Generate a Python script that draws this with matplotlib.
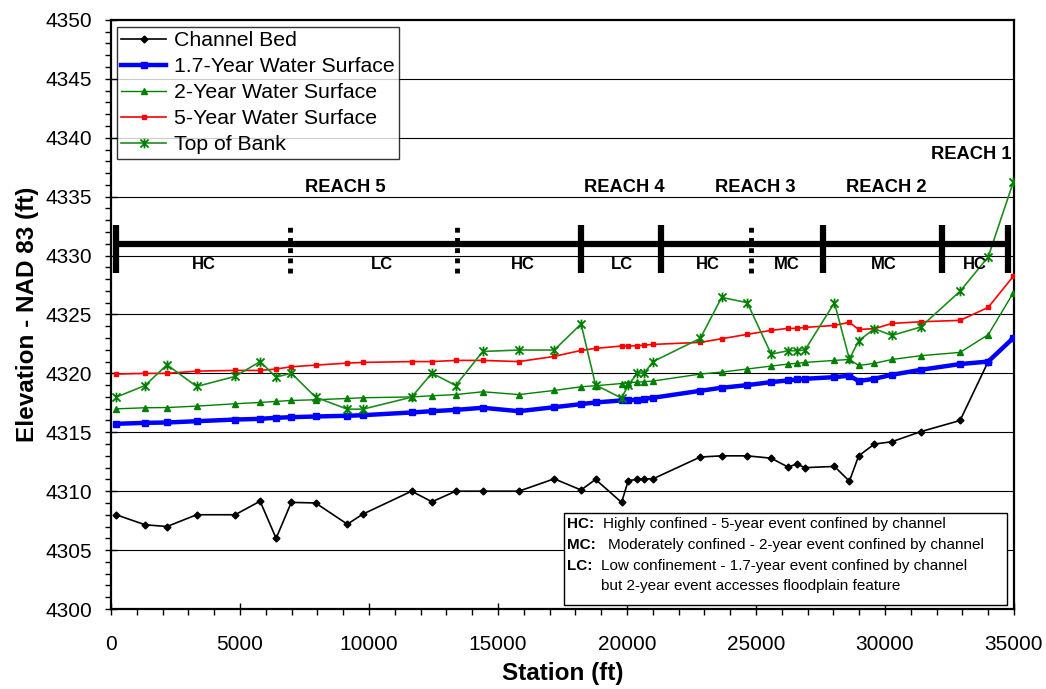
import matplotlib
matplotlib.use("Agg")
import matplotlib.pyplot as plt
from matplotlib.path import Path
from matplotlib.ticker import MultipleLocator
from matplotlib.patches import Rectangle

plt.rcParams['font.family'] = ['Liberation Sans', 'DejaVu Sans']

# ---------------- data ----------------
station = [200, 1320, 2170, 3320, 4810, 5780, 6400, 6990, 7930, 9160,
           9760, 11650, 12440, 13360, 14410, 15810, 17180, 18220, 18780, 19790,
           20050, 20400, 20670, 21010, 22840, 23670, 24660, 25590, 26240, 26580,
           26900, 28040, 28620, 28980, 29590, 30270, 31380, 32910, 34000, 34970]

channel_bed = [4308.0, 4307.15, 4307.0, 4308.0, 4308.0, 4309.15, 4306.0, 4309.05, 4309.0, 4307.2,
               4308.05, 4310.0, 4309.1, 4310.0, 4310.0, 4310.0, 4311.05, 4310.1, 4311.0, 4309.05,
               4310.9, 4311.0, 4311.05, 4311.05, 4312.9, 4313.0, 4313.0, 4312.8, 4312.05, 4312.3,
               4312.0, 4312.1, 4310.85, 4313.0, 4314.0, 4314.2, 4315.05, 4316.0, 4321.0, 4323.0]

ws_1_7yr = [4315.72, 4315.8, 4315.83, 4315.94, 4316.08, 4316.14, 4316.23, 4316.28, 4316.34, 4316.4,
            4316.45, 4316.68, 4316.79, 4316.9, 4317.08, 4316.79, 4317.13, 4317.39, 4317.53, 4317.7,
            4317.72, 4317.76, 4317.84, 4317.93, 4318.52, 4318.78, 4319.0, 4319.26, 4319.4, 4319.48,
            4319.54, 4319.68, 4319.8, 4319.35, 4319.54, 4319.88, 4320.3, 4320.79, 4321.0, 4323.0]

ws_2yr = [4316.99, 4317.08, 4317.1, 4317.22, 4317.42, 4317.53, 4317.62, 4317.7, 4317.76, 4317.87,
          4317.93, 4318.0, 4318.1, 4318.2, 4318.44, 4318.2, 4318.55, 4318.86, 4318.95, 4319.14,
          4319.2, 4319.26, 4319.29, 4319.35, 4319.94, 4320.11, 4320.37, 4320.62, 4320.79, 4320.85,
          4320.93, 4321.1, 4321.18, 4320.67, 4320.85, 4321.18, 4321.5, 4321.78, 4323.28, 4326.82]

ws_5yr = [4319.94, 4320.0, 4320.0, 4320.19, 4320.25, 4320.25, 4320.37, 4320.56, 4320.7, 4320.87,
          4320.93, 4321.0, 4321.0, 4321.1, 4321.1, 4321.0, 4321.44, 4321.95, 4322.12, 4322.32,
          4322.32, 4322.35, 4322.4, 4322.46, 4322.63, 4322.94, 4323.31, 4323.65, 4323.82, 4323.82,
          4323.9, 4324.07, 4324.33, 4323.73, 4323.79, 4324.24, 4324.38, 4324.5, 4325.6, 4328.23]

top_of_bank = [4317.98, 4318.97, 4320.73, 4318.89, 4319.74, 4321.0, 4319.68, 4320.02, 4317.98, 4316.96,
               4316.96, 4317.98, 4320.02, 4318.97, 4321.86, 4321.98, 4321.98, 4324.19, 4319.02, 4317.9,
               4319.0, 4320.02, 4320.02, 4321.0, 4322.97, 4326.45, 4326.0, 4321.63, 4321.92, 4321.92,
               4321.98, 4326.0, 4321.2, 4322.77, 4323.79, 4323.22, 4323.93, 4326.97, 4329.88, 4336.22]

# reach / confinement bar
bar_start, bar_end = 200, 34750
solid_dividers = [200, 18200, 21300, 27600, 32200, 34750]
dotted_dividers = [6950, 13430, 24800]
zone_labels = ['HC', 'LC', 'HC', 'LC', 'HC', 'MC', 'MC', 'HC']
zone_label_x = [3580, 10490, 15950, 19790, 23150, 26190, 29935, 33490]
reach_labels = ['REACH 5', 'REACH 4', 'REACH 3', 'REACH 2']
reach_label_x = [9070, 19880, 24960, 30040]

# ---------------- figure ----------------
fig = plt.figure(figsize=(10.46, 6.89), dpi=100)
ax = fig.add_axes([0.1061, 0.1161, 0.8633, 0.855])

ax.set_xlim(0, 35000)
ax.set_ylim(4300, 4350)

for y in range(4305, 4350, 5):
    ax.axhline(y, color='black', lw=0.8, zorder=0.5)

star = Path([(-1, -1), (1, 1), (-1, 1), (1, -1), (0, -1.2), (0, 1.2)],
            [Path.MOVETO, Path.LINETO, Path.MOVETO, Path.LINETO, Path.MOVETO, Path.LINETO])

ax.plot(station, channel_bed, color='black', lw=1.2, marker='D', ms=3.5,
        label='Channel Bed', zorder=3)
ax.plot(station, ws_1_7yr, color='#0000FF', lw=3.2, marker='s', ms=5,
        label='1.7-Year Water Surface', zorder=3)
ax.plot(station, ws_2yr, color='#008000', lw=1.0, marker='^', ms=5,
        label='2-Year Water Surface', zorder=3)
ax.plot(station, ws_5yr, color='#FF0000', lw=1.2, marker='s', ms=3.5,
        label='5-Year Water Surface', zorder=3)
ax.plot(station, top_of_bank, color='#1E8C1E', lw=1.2, marker=star, ms=7,
        mew=1.3, mfc='none', mec='#008000', label='Top of Bank', zorder=4)

# reach bar
bar_y = 4331
ax.hlines(bar_y, bar_start, bar_end, color='black', lw=4.5, zorder=5)
ax.vlines(solid_dividers, 4328.5, 4332.6, color='black', lw=4.5, zorder=5)
ax.vlines(dotted_dividers, 4328.5, 4332.6, color='black', lw=3.5,
          linestyles=(0, (1, 1.1)), zorder=5)
for lab, xx in zip(zone_labels, zone_label_x):
    ax.text(xx, 4329.2, lab, ha='center', va='center', fontsize=12,
            fontweight='bold', zorder=6)
for lab, xx in zip(reach_labels, reach_label_x):
    ax.text(xx, 4335.8, lab, ha='center', va='center', fontsize=13.2,
            fontweight='bold', zorder=6)
ax.text(34920, 4338.6, 'REACH 1', ha='right', va='center', fontsize=13.2,
        fontweight='bold', zorder=6)

# ticks
ax.xaxis.set_major_locator(MultipleLocator(5000))
ax.xaxis.set_minor_locator(MultipleLocator(1000))
ax.yaxis.set_major_locator(MultipleLocator(5))
ax.yaxis.set_minor_locator(MultipleLocator(1))
ax.tick_params(which='major', direction='inout', length=9, width=1, labelsize=15)
ax.tick_params(axis='y', which='major', pad=9)
ax.tick_params(axis='x', which='major', pad=14)
ax.tick_params(which='minor', direction='out', length=4.5, width=1)
for s in ax.spines.values():
    s.set_linewidth(1.6)

ax.set_xlabel('Station (ft)', fontsize=17.5, fontweight='bold', labelpad=6)
ax.set_ylabel('Elevation - NAD 83 (ft)', fontsize=17.5, fontweight='bold', labelpad=5)

leg = ax.legend(loc='upper left', bbox_to_anchor=(0.0066, 0.988), fontsize=15.3,
                frameon=True, fancybox=False, edgecolor='black', borderpad=0.2,
                labelspacing=0.33, handlelength=2.1, handletextpad=0.4, borderaxespad=0)
leg.get_frame().set_linewidth(1.0)
leg.set_zorder(10)

# confinement description box
ax.add_patch(Rectangle((0.5017, 0.0068), 0.4905, 0.1562, transform=ax.transAxes,
                       facecolor='white', edgecolor='black', lw=1.0, zorder=8))
rows = [0.1443, 0.1087, 0.0730, 0.0391]
fs = 11
ax.text(0.5045, rows[0], 'HC:', transform=ax.transAxes, fontsize=fs, fontweight='bold', va='center', zorder=9)
ax.text(0.5449, rows[0], 'Highly confined - 5-year event confined by channel', transform=ax.transAxes,
        fontsize=fs, va='center', zorder=9)
ax.text(0.5045, rows[1], 'MC:', transform=ax.transAxes, fontsize=fs, fontweight='bold', va='center', zorder=9)
ax.text(0.5504, rows[1], 'Moderately confined - 2-year event confined by channel', transform=ax.transAxes,
        fontsize=fs, va='center', zorder=9)
ax.text(0.5045, rows[2], 'LC:', transform=ax.transAxes, fontsize=fs, fontweight='bold', va='center', zorder=9)
ax.text(0.5426, rows[2], 'Low confinement - 1.7-year event confined by channel', transform=ax.transAxes,
        fontsize=fs, va='center', zorder=9)
ax.text(0.5426, rows[3], 'but 2-year event accesses floodplain feature', transform=ax.transAxes,
        fontsize=fs, va='center', zorder=9)

fig.savefig('out.png', dpi=100)
